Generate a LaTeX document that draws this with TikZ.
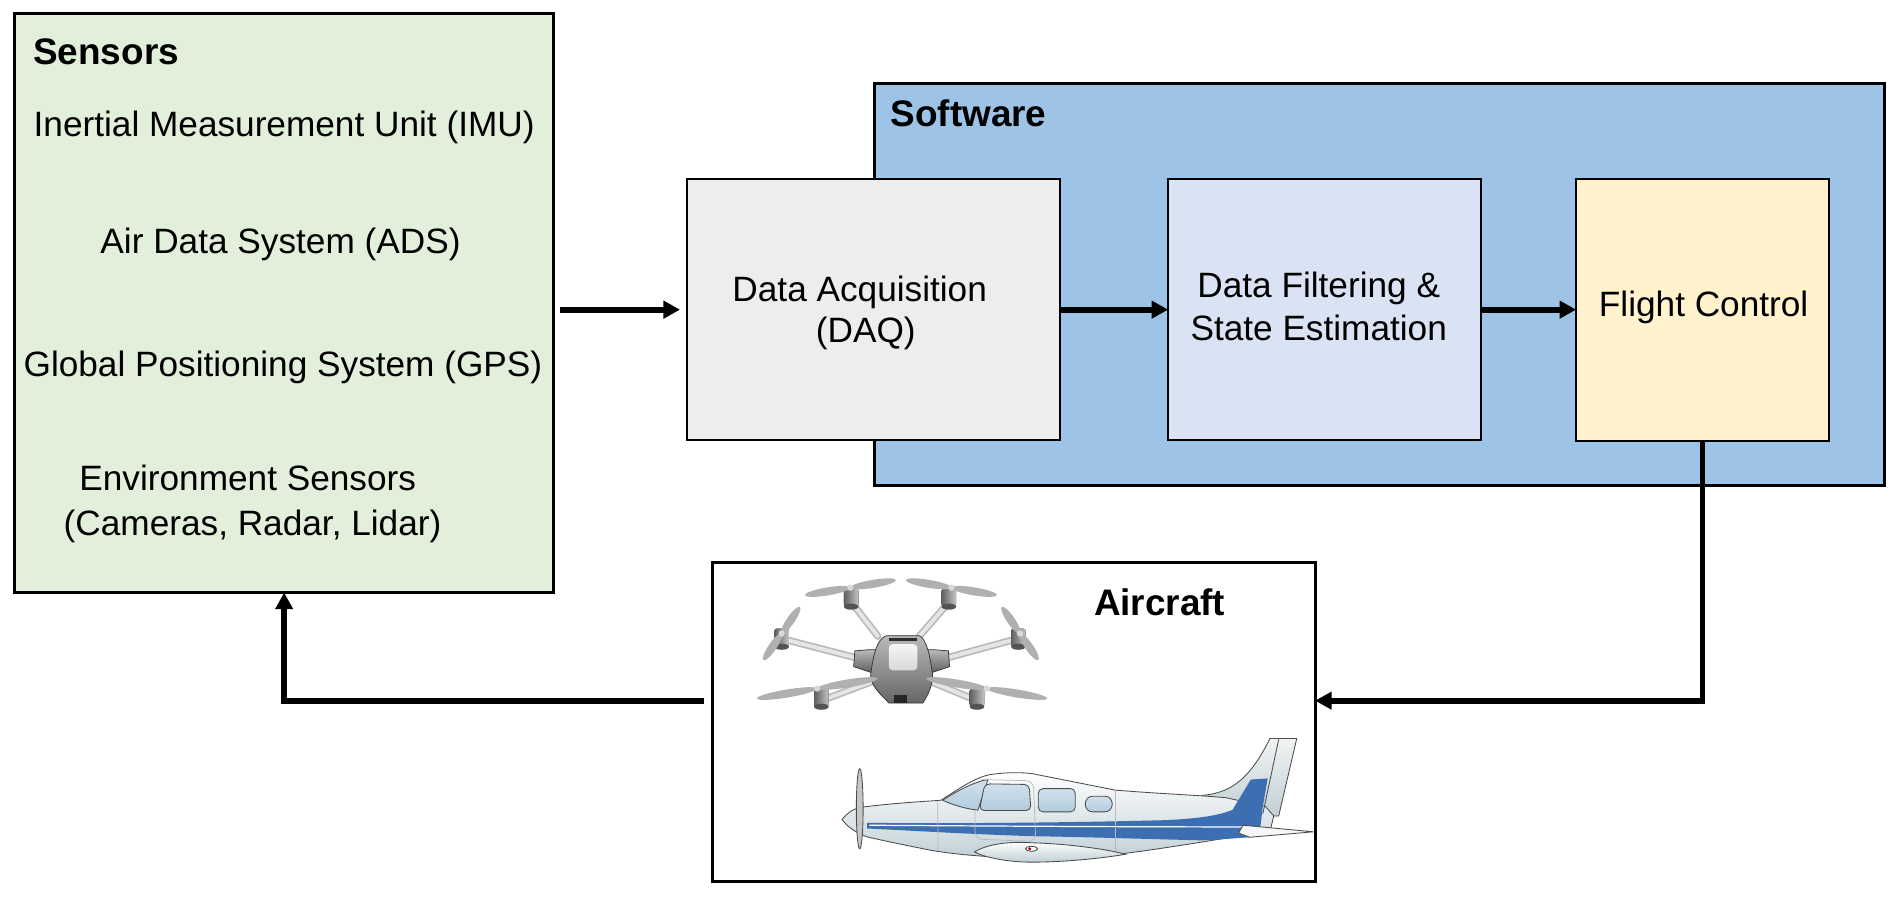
\documentclass[tikz,border=0pt]{standalone}
\usepackage{fontspec}
\setmainfont{Liberation Sans}
\usetikzlibrary{arrows.meta}
\definecolor{sensfill}{RGB}{226,239,218}
\definecolor{softfill}{RGB}{157,195,230}
\definecolor{daqfill}{RGB}{237,237,237}
\definecolor{filtfill}{RGB}{218,227,243}
\definecolor{fcfill}{RGB}{255,242,204}
\definecolor{stripec}{RGB}{62,110,178}
\definecolor{planebody}{RGB}{192,208,214}
\definecolor{windowc}{RGB}{178,204,222}
\newcommand\droneprop[4]{%
  \fill[gray!62, rotate around={#3:(#1,#2)}] (#1+#4/2,#2) ellipse ({#4/2} and 3.3);
  \fill[gray!62, rotate around={#3:(#1,#2)}] (#1-#4/2,#2) ellipse ({#4/2} and 3.3);
  \fill[gray!30] (#1,#2) circle (2.6);
}
\begin{document}
\begin{tikzpicture}[x=0.5pt,y=-0.5pt,
  outerbox/.style={draw=black,line width=1.3pt,inner sep=0pt,outer sep=0pt},
  innerbox/.style={draw=black,line width=0.8pt,inner sep=0pt,outer sep=0pt},
  txt/.style={font=\fontsize{14.5}{17}\selectfont,inner sep=0pt,anchor=base},
  ttl/.style={font=\fontsize{15.2}{18}\selectfont\bfseries,inner sep=0pt,anchor=base},
  conn/.style={line width=2.4pt,-{Triangle[length=6.8pt,width=7pt]}},
  pl/.style={draw=gray!60!black,line width=0.35pt},
]
\fill[white] (0,0) rectangle (1568,751.06);
\useasboundingbox (0,0) rectangle (1568,751.06);

% boxes
\node[outerbox,fill=sensfill,minimum width=222pt,minimum height=238.5pt] (sens) at (234,249.5) {};
\node[outerbox,fill=softfill,minimum width=416pt,minimum height=165.5pt] (soft) at (1136,234.5) {};
\node[innerbox,fill=daqfill,minimum width=153.5pt,minimum height=107.5pt] (daq) at (719.5,255) {};
\node[innerbox,fill=filtfill,minimum width=129pt,minimum height=107.5pt] (filt) at (1091,255) {};
\node[innerbox,fill=fcfill,minimum width=104pt,minimum height=108pt] (fc) at (1402,255.5) {};
\node[outerbox,fill=white,minimum width=248pt,minimum height=131.5pt] (air) at (835,594.5) {};

% texts
\node[ttl,anchor=base west] (tsens) at (27,53) {Sensors};
\node[txt] (timu) at (234,112) {Inertial Measurement Unit (IMU)};
\node[txt] (tads) at (231,209) {Air Data System (ADS)};
\node[txt] (tgps) at (233,310) {Global Positioning System (GPS)};
\node[txt] (tenv1) at (204,404) {Environment Sensors};
\node[txt] (tenv2) at (208,441) {(Cameras, Radar, Lidar)};
\node[ttl,anchor=base west] (tsoft) at (733,104) {Software};
\node[txt] (tdaq1) at (708,248) {Data Acquisition};
\node[txt] (tdaq2) at (713,282) {(DAQ)};
\node[txt] (tfilt1) at (1086,245) {Data Filtering \&};
\node[txt] (tfilt2) at (1086,280) {State Estimation};
\node[txt] (tfc) at (1403,261) {Flight Control};
\node[ttl] (tair) at (955,507) {Aircraft};

% connectors
\draw[conn,shorten <=2.5pt,shorten >=3pt] (sens.east |- daq.west) -- (daq.west);
\draw[conn] (daq.east) -- (filt.west);
\draw[conn] (filt.east) -- (fc.west |- filt.east);
\coordinate (aL) at (580,577);
\draw[conn] (fc.south) |- (air.east |- aL);
\draw[conn] (aL) -| (sens.south);

% ---------- drone ----------
\foreach \ax/\ay/\bx/\by in {723/524/702/497, 757/524/780.5/497, 706/542/648/527, 779/542/834/527, 719/561/679/576, 766/561/802/576}{
  \draw[line width=3pt,gray!55,line cap=round] (\ax,\ay) -- (\bx,\by);
  \draw[line width=1.6pt,gray!20,line cap=round] (\ax,\ay) -- (\bx,\by);
}
% shoulders
\path[top color=gray!55,bottom color=gray!75!black,draw=gray!40!black,line width=0.3pt]
  (716,535) -- (704,536) -- (703,549) -- (718,554) -- (767,554) -- (782,549) -- (781,536) -- (769,535) -- cycle;
% dome
\path[top color=gray!55,bottom color=gray!80!black,draw=gray!40!black,line width=0.3pt]
  (730,523.5) -- (757,523.5) .. controls (763,526) and (766,540) .. (768,556)
  .. controls (768,566) and (763,574) .. (760,579) -- (732,579)
  .. controls (728,574) and (717,566) .. (717,556)
  .. controls (719,540) and (722,526) .. (730,523.5) -- cycle;
\fill[gray!35!black] (732,525.5) rectangle (755,528);
\path[top color=gray!8,bottom color=gray!30,rounded corners=1.5pt] (732,530.5) rectangle (755.5,552);
\fill[black!85] (736,572) rectangle (747,579);
\foreach \mx/\my in {701/484.6, 781.4/484.6, 643.7/517.6, 838.7/517.6, 676.4/567, 804.6/567}{
  \fill[left color=gray!75!black,right color=gray!45,rounded corners=1pt] (\mx-6,\my) rectangle (\mx+6,\my+15);
  \fill[gray!65!black] (\mx,\my+15) ellipse (6 and 2.5);
}
\droneprop{700.3}{483.9}{9.4}{38}
\droneprop{783.5}{483.9}{-9.4}{38}
\droneprop{643.7}{521.7}{55.6}{26.6}
\droneprop{840}{521.7}{-55.6}{26.6}
\droneprop{673}{567}{9.4}{50.4}
\droneprop{812.7}{567}{-9.4}{50.4}

% ---------- plane ----------
% fin
\path[pl,top color=gray!10,bottom color=planebody]
  (990,655) .. controls (1015,653) and (1030,640) .. (1045.8,608.2) -- (1067.9,608.2) -- (1053,672) -- (1000,672) -- cycle;
% fuselage
\path[pl,top color=white,bottom color=planebody]
  (693.4,674.9) .. controls (699,668) and (704,665.5) .. (711.3,664.5)
  .. controls (740,661) and (762,660) .. (774.9,659)
  .. controls (792,648) and (805,639) .. (818,637.5)
  .. controls (830,636) and (840,636) .. (849.5,637)
  -- (918.6,650.7)
  .. controls (960,654) and (990,655) .. (1010,657)
  -- (1042,664) -- (1049,672) -- (1046,684)
  .. controls (1000,692) and (950,700) .. (924.2,703)
  .. controls (900,706) and (870,708) .. (849.5,707)
  .. controls (810,706) and (782,703) .. (766.6,700.2)
  .. controls (740,695) and (722,691) .. (714.1,689.2)
  .. controls (705,686) and (698,681) .. (693.4,674.9) -- cycle;
% stripe
\fill[stripec]
  (714,677.6) .. controls (800,678.5) and (900,677) .. (960,675.4)
  .. controls (990,674) and (1005,671) .. (1015,667) -- (1030,642) -- (1044,641)
  -- (1040,664) -- (1037,689) .. controls (1020,690) and (1000,692) .. (987.7,692)
  .. controls (930,690.5) and (880,689) .. (849.5,688.6)
  .. controls (800,687) and (750,684) .. (714,682.3) -- cycle;
\draw[white,line width=0.5pt] (716,679.6) .. controls (850,680.5) and (950,681) .. (1036,681);
\draw[pl] (1053,609) -- (1040,670);
% stabiliser
\path[pl,fill=gray!6] (1023.7,679.6) -- (1081.7,685) -- (1029.2,689.5) -- (1020,686) -- cycle;
% windows
\path[pl,top color=windowc!60,bottom color=windowc]
  (776.3,659) .. controls (790,650) and (805,643) .. (813.6,642) -- (805.3,667.2)
  .. controls (795,666) and (785,663) .. (776.3,659) -- cycle;
\path[pl,top color=windowc!60,bottom color=windowc,rounded corners=2pt]
  (811,645.5) -- (847.5,646) -- (849,667.5) -- (806.5,667.5) -- cycle;
\path[pl,top color=windowc!60,bottom color=windowc,rounded corners=2pt]
  (855,649.4) rectangle (885.5,668.6);
\path[pl,top color=windowc!60,bottom color=windowc,rounded corners=3pt]
  (893.8,655.7) rectangle (915.9,668.6);
% panel lines
\draw[gray!55,line width=0.3pt] (772.2,660) -- (772.5,700.5);
\draw[gray!55,line width=0.3pt] (918.6,651) -- (918.6,703);
\draw[gray!55,line width=0.3pt,rounded corners=3pt] (808,642) -- (851,643) -- (853,693) -- (803,691) -- (803,668);
% wing fairing
\path[pl,top color=white,bottom color=planebody]
  (802.6,701.5) .. controls (815,694) and (835,693) .. (849.5,694)
  .. controls (880,695) and (910,699) .. (926.9,703.5)
  .. controls (900,708) and (870,710) .. (849.5,710)
  .. controls (830,710) and (810,706) .. (802.6,701.5) -- cycle;
\path[pl,fill=white] (849.5,699) ellipse (5 and 2);
\fill[red!70!black] (848,699) circle (1.4);
% propeller
\path[pl,fill=gray!45] (708,666) ellipse (2.8 and 33);
\end{tikzpicture}
\end{document}
